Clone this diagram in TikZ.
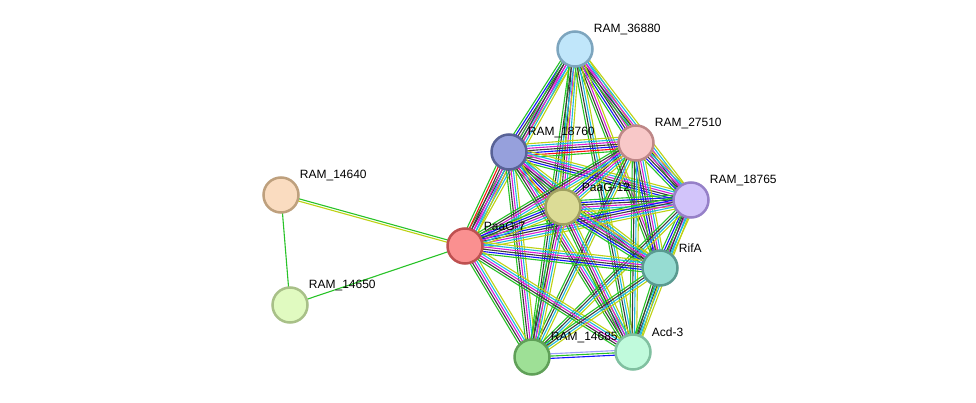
\documentclass[tikz,border=0pt]{standalone}
\usepackage{fontspec}
\setmainfont{Liberation Sans}
\usetikzlibrary{calc,backgrounds}

\definecolor{cnb}{RGB}{40,195,40}
\definecolor{cfu}{RGB}{250,20,20}
\definecolor{cco}{RGB}{20,20,250}
\definecolor{cex}{RGB}{60,60,60}
\definecolor{cxp}{RGB}{215,30,215}
\definecolor{cdb}{RGB}{30,185,225}
\definecolor{ctm}{RGB}{190,210,20}
\definecolor{cho}{RGB}{160,160,250}

\tikzset{
  prot/.style={circle, minimum size=35pt, inner sep=0pt, line width=2.5pt},
  lbl/.style={inner sep=0pt, label distance=0pt, yshift=19.5pt,
    font=\fontsize{12}{14}\selectfont},
  edgeline/.style={line width=1.1pt}
}

% one bundle of parallel lines, one line per colour
\newcommand\stredge[3]{%
  \foreach \c [count=\i] in {#3} {\xdef\nlines{\i}}
  \foreach \c [count=\i] in {#3} {
    \pgfmathsetmacro\off{(\i-(\nlines+1)/2)*2.3}
    \draw[\c, edgeline] ($(#1.center)!\off pt!90:(#2.center)$) -- ($(#2.center)!\off pt!-90:(#1.center)$);
  }}

\begin{document}
\begin{tikzpicture}[x=1pt, y=-1pt]
  \useasboundingbox (0,0) rectangle (976,403);

  \node[prot, fill={rgb,255:red,192;green,230;blue,250}, draw={rgb,255:red,125;green,165;blue,190}, label={[lbl]right:RAM\_36880}] (r36880) at (575,49) {};
  \node[prot, fill={rgb,255:red,248;green,200;blue,200}, draw={rgb,255:red,190;green,135;blue,135}, label={[lbl]right:RAM\_27510}] (r27510) at (636,143) {};
  \node[prot, fill={rgb,255:red,150;green,160;blue,220}, draw={rgb,255:red,88;green,98;blue,150}, label={[lbl]right:RAM\_18760}] (r18760) at (509,152) {};
  \node[prot, fill={rgb,255:red,210;green,196;blue,250}, draw={rgb,255:red,150;green,128;blue,200}, label={[lbl]right:RAM\_18765}] (r18765) at (691,200) {};
  \node[prot, fill={rgb,255:red,220;green,220;blue,150}, draw={rgb,255:red,160;green,160;blue,96}, label={[lbl]right:PaaG-12}] (paag12) at (563,207) {};
  \node[prot, fill={rgb,255:red,250;green,144;blue,144}, draw={rgb,255:red,190;green,80;blue,80}, label={[lbl]right:PaaG-7}] (paag7) at (465,246) {};
  \node[prot, fill={rgb,255:red,150;green,220;blue,210}, draw={rgb,255:red,90;green,154;blue,144}, label={[lbl]right:RifA}] (rifa) at (660,268) {};
  \node[prot, fill={rgb,255:red,250;green,220;blue,192}, draw={rgb,255:red,190;green,160;blue,125}, label={[lbl]right:RAM\_14640}] (r14640) at (281,195) {};
  \node[prot, fill={rgb,255:red,224;green,250;blue,192}, draw={rgb,255:red,168;green,192;blue,136}, label={[lbl]right:RAM\_14650}] (r14650) at (290,305) {};
  \node[prot, fill={rgb,255:red,158;green,224;blue,150}, draw={rgb,255:red,96;green,160;blue,88}, label={[lbl]right:RAM\_14685}] (r14685) at (532,357) {};
  \node[prot, fill={rgb,255:red,192;green,250;blue,220}, draw={rgb,255:red,128;green,192;blue,160}, label={[lbl]right:Acd-3}] (acd3) at (633,352) {};

  \begin{scope}[on background layer]
    \fill[white] (0,0) rectangle (976,403);
    \stredge{r36880}{r18760}{cnb,cco,cex,cxp,cdb,ctm}
    \stredge{r36880}{paag12}{cnb,cex,cxp,cdb,ctm}
    \stredge{r36880}{paag7}{cnb,cex,cxp,cdb,ctm}
    \stredge{r36880}{r27510}{cnb,cco,cex,cxp,cdb,ctm}
    \stredge{r36880}{r18765}{cnb,cex,cxp,cdb,ctm}
    \stredge{r36880}{rifa}{cnb,cex,cxp,ctm}
    \stredge{r36880}{r14685}{cnb,cex,cdb,ctm}
    \stredge{r36880}{acd3}{cnb,cex,cdb,ctm}
    \stredge{r18760}{r27510}{cnb,cfu,cco,cex,cxp,cdb,ctm}
    \stredge{r18760}{paag12}{cnb,cfu,cco,cex,cxp,cdb,ctm}
    \stredge{r18760}{paag7}{cnb,cfu,cex,cxp,cdb,ctm}
    \stredge{r18760}{r18765}{cnb,cco,cex,cxp,cdb,ctm}
    \stredge{r18760}{rifa}{cnb,cex,cxp,cdb,ctm}
    \stredge{r18760}{r14685}{cnb,cex,cxp,cdb,ctm}
    \stredge{r18760}{acd3}{cnb,cex,cxp,cdb,ctm}
    \stredge{r27510}{paag12}{cnb,cco,cex,cxp,cdb,ctm}
    \stredge{r27510}{paag7}{cnb,cex,cxp,cdb,ctm}
    \stredge{r27510}{r18765}{cnb,cco,cex,cxp,cdb,ctm}
    \stredge{r27510}{rifa}{cnb,cco,cex,cxp,cdb,ctm}
    \stredge{r27510}{r14685}{cnb,cex,cdb,ctm}
    \stredge{r27510}{acd3}{cnb,cex,cdb,ctm}
    \stredge{r18765}{paag12}{cnb,cco,cex,cxp,cdb,ctm}
    \stredge{r18765}{paag7}{cnb,cco,cex,cxp,cdb,ctm}
    \stredge{r18765}{rifa}{cnb,cco,cex,cxp,cdb,ctm}
    \stredge{r18765}{r14685}{cnb,cex,cdb,ctm}
    \stredge{r18765}{acd3}{cnb,cex,cdb,ctm}
    \stredge{paag12}{paag7}{cnb,cco,cex,cxp,cdb,ctm}
    \stredge{paag12}{rifa}{cnb,cco,cex,cxp,cdb,ctm}
    \stredge{paag12}{r14685}{cnb,cex,cxp,cdb,ctm}
    \stredge{paag12}{acd3}{cnb,cex,cxp,cdb,ctm}
    \stredge{paag7}{rifa}{cnb,cco,cex,cxp,cdb,ctm}
    \stredge{paag7}{r14685}{cnb,cex,cxp,cdb,ctm}
    \stredge{paag7}{acd3}{cnb,cex,cxp,cdb,ctm}
    \stredge{rifa}{r14685}{cnb,cex,cdb,ctm}
    \stredge{rifa}{acd3}{cnb,cex,cdb,ctm}
    \stredge{r14685}{acd3}{cco,cnb,cho}
    \stredge{paag7}{r14640}{cnb,ctm}
    \stredge{r14640}{r14650}{cnb}
    \stredge{r14650}{paag7}{cnb}
  \end{scope}
\end{tikzpicture}
\end{document}
